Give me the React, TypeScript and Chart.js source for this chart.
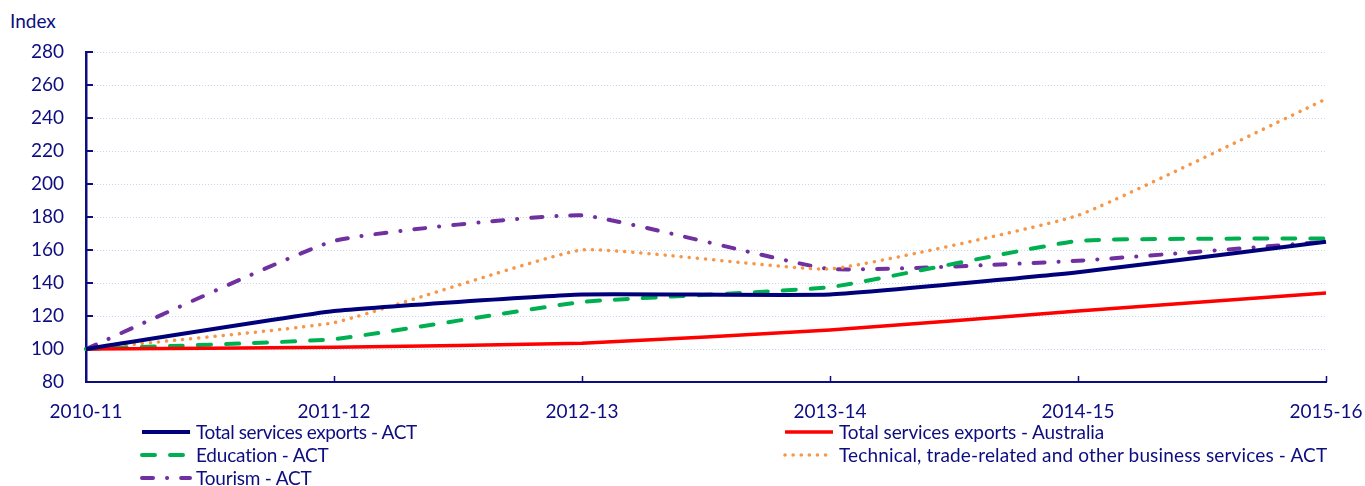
import React, { useEffect, useRef } from "react";
import { Chart, registerables } from "chart.js";

Chart.register(...registerables);

const categories = ["2010-11", "2011-12", "2012-13", "2013-14", "2014-15", "2015-16"];
const totalAct = [100, 123, 133, 133, 146.5, 165];
const totalAus = [100, 101, 103.5, 111.5, 123, 134];
const educationAct = [100, 106, 128.5, 137.5, 165.5, 167];
const technicalAct = [100, 116, 160, 148.5, 181, 251.5];
const tourismAct = [100, 165.5, 181, 148.5, 153.5, 165];
const yTicks = [80, 100, 120, 140, 160, 180, 200, 220, 240, 260, 280];

const NAVY = "#0d0d80";
const FONT = "Lato, 'Open Sans', sans-serif";

const series = [
  { label: "Total services exports - ACT", data: totalAct, color: "#00007a", width: 4, dash: [] as number[], cap: "butt" },
  { label: "Total services exports - Australia", data: totalAus, color: "#ff0000", width: 3.5, dash: [] as number[], cap: "butt" },
  { label: "Education - ACT", data: educationAct, color: "#00b050", width: 4, dash: [13, 15], cap: "round" },
  { label: "Technical, trade-related and other business services - ACT", data: technicalAct, color: "#f79646", width: 3.5, dash: [0.1, 8], cap: "round" },
  { label: "Tourism - ACT", data: tourismAct, color: "#7030a0", width: 4, dash: [11, 14, 0.1, 14], cap: "round" },
];

const gridPlugin = {
  id: "customGrid",
  beforeDatasetsDraw(chart: any) {
    const { ctx, chartArea, scales } = chart;
    const y = scales.y;
    const x = scales.x;
    ctx.save();
    ctx.strokeStyle = "#c5d6ef";
    ctx.lineWidth = 1;
    ctx.setLineDash([1, 2]);
    yTicks.forEach((v) => {
      if (v === 80) return;
      const py = Math.round(y.getPixelForValue(v)) + 0.5;
      ctx.beginPath();
      ctx.moveTo(chartArea.left + 8, py);
      ctx.lineTo(chartArea.right, py);
      ctx.stroke();
    });
    ctx.setLineDash([]);
    ctx.strokeStyle = NAVY;
    ctx.lineWidth = 2;
    yTicks.forEach((v) => {
      if (v === 80) return;
      const py = Math.round(y.getPixelForValue(v));
      ctx.beginPath();
      ctx.moveTo(chartArea.left, py);
      ctx.lineTo(chartArea.left + 7, py);
      ctx.stroke();
    });
    ctx.lineWidth = 1.5;
    categories.forEach((_, i) => {
      if (i === 0) return;
      const px = Math.round(x.getPixelForValue(i)) + 0.5;
      ctx.beginPath();
      ctx.moveTo(px, chartArea.bottom);
      ctx.lineTo(px, chartArea.bottom - 6);
      ctx.stroke();
    });
    ctx.restore();
  },
};

function LegendItem({ s, left, top, spacing }: { s: any; left: number; top: number; spacing: number }) {
  return (
    <div style={{ position: "absolute", left, top, display: "flex", alignItems: "center", height: 22 }}>
      <svg width={52} height={10} style={{ marginRight: 4 }}>
        <line
          x1={2}
          y1={5}
          x2={50}
          y2={5}
          stroke={s.color}
          strokeWidth={s.width}
          strokeDasharray={s.dash.length ? s.dash.join(" ") : undefined}
          strokeLinecap={s.cap}
        />
      </svg>
      <span style={{ fontFamily: FONT, fontSize: 19, color: NAVY, whiteSpace: "nowrap", letterSpacing: spacing, lineHeight: "22px" }}>{s.label}</span>
    </div>
  );
}

export default function App() {
  const ref = useRef<HTMLCanvasElement | null>(null);
  useEffect(() => {
    if (!ref.current) return;
    const chart = new Chart(ref.current, {
      type: "line",
      data: {
        labels: categories,
        datasets: series.map((s) => ({
          label: s.label,
          data: s.data,
          borderColor: s.color,
          backgroundColor: s.color,
          borderWidth: s.width,
          borderDash: s.dash,
          borderCapStyle: s.cap as any,
          pointRadius: 0,
          tension: 0.12,
          fill: false,
        })),
      },
      options: {
        animation: false,
        responsive: false,
        maintainAspectRatio: false,
        layout: { padding: { top: 52, right: 39, left: 0, bottom: 0 } },
        plugins: { legend: { display: false }, tooltip: { enabled: false } },
        scales: {
          x: {
            type: "category",
            offset: false,
            grid: { display: false, drawTicks: false },
            border: { display: true, color: NAVY, width: 2 },
            ticks: { color: NAVY, font: { family: FONT, size: 19 }, padding: 18, maxRotation: 0, autoSkip: false },
            afterFit: (s: any) => {
              s.height = 43;
              s.paddingLeft = 0;
              s.paddingRight = 0;
            },
          },
          y: {
            min: 80,
            max: 280,
            grid: { display: false, drawTicks: false },
            border: { display: true, color: NAVY, width: 2.5 },
            ticks: { stepSize: 20, color: NAVY, font: { family: FONT, size: 19 }, padding: 22 },
            afterFit: (s: any) => {
              s.width = 86;
              s.paddingTop = 0;
              s.paddingBottom = 0;
            },
          },
        },
      },
      plugins: [gridPlugin],
    });
    return () => chart.destroy();
  }, []);

  return (
    <div style={{ position: "absolute", left: 0, top: 0, width: 1365, height: 486, background: "#fff", overflow: "hidden" }}>
      <div style={{ position: "absolute", left: 10, top: 10, fontFamily: FONT, fontSize: 19, color: NAVY, lineHeight: "22px" }}>Index</div>
      <canvas ref={ref} width={1365} height={425} style={{ position: "absolute", left: 0, top: 0 }} />
      <LegendItem s={series[0]} left={140} top={421} spacing={-0.4} />
      <LegendItem s={series[2]} left={140} top={444} spacing={-0.2} />
      <LegendItem s={series[4]} left={140} top={467} spacing={-0.2} />
      <LegendItem s={series[1]} left={783} top={421} spacing={-0.1} />
      <LegendItem s={series[3]} left={783} top={444} spacing={0.15} />
    </div>
  );
}
